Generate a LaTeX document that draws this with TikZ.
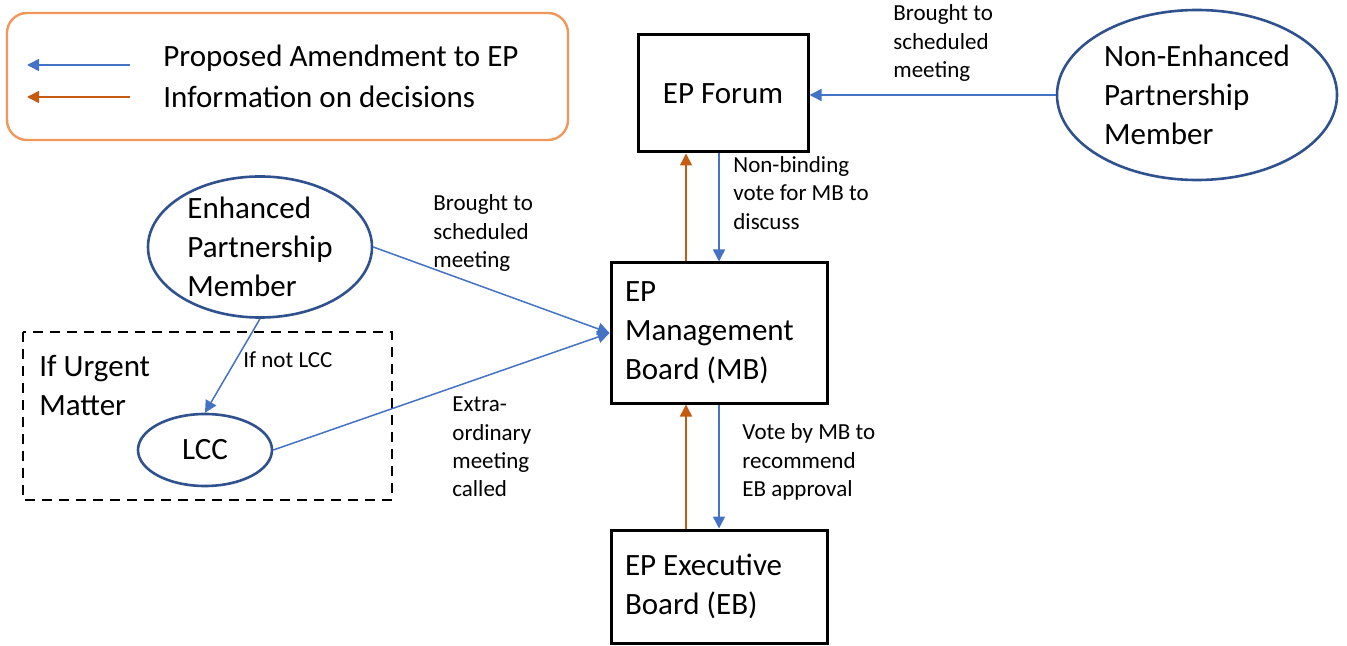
\documentclass[tikz,border=0pt]{standalone}
\usepackage{fontspec}
\setmainfont{Carlito}
\usetikzlibrary{arrows.meta, shapes.geometric}

\definecolor{propblue}{HTML}{4472C4}
\definecolor{infoorange}{HTML}{C55A11}
\definecolor{ovalblue}{HTML}{2F528F}
\definecolor{legorange}{HTML}{ED7D31}

\tikzstyle{body}=[font=\fontsize{15.5pt}{19.5pt}\selectfont]
\tikzstyle{small}=[font=\fontsize{11.5pt}{14.2pt}\selectfont, align=left, anchor=west, inner sep=0pt]
\tikzstyle{board}=[rectangle, draw=black, line width=1.5pt, body,
                   inner sep=0pt]
\tikzstyle{member}=[ellipse, draw=ovalblue, line width=1.3pt, body,
                    align=left, inner sep=0pt]
\tikzstyle{prop}=[-{Triangle[length=6pt, width=6pt]}, draw=propblue, line width=0.75pt]
\tikzstyle{info}=[-{Triangle[length=6pt, width=6pt]}, draw=infoorange, line width=0.75pt]

\begin{document}
\begin{tikzpicture}[x=0.5pt, y=-0.5pt]
  \useasboundingbox (0, 0) rectangle (1347, 646);

  %%%%%%%%%%%%%%%%%%%%%%%%%%%%%%
  % legend
  \draw[legorange!80, line width=1.2pt, rounded corners=10pt] (7, 13) rectangle (568, 140);
  \coordinate (leg_prop_s) at (130, 65);
  \coordinate (leg_prop_e) at (27, 65);
  \coordinate (leg_info_s) at (130, 97);
  \coordinate (leg_info_e) at (27, 97);
  \node (leg_prop) at (163, 58) [body, anchor=west, inner sep=0pt] {Proposed Amendment to EP};
  \node (leg_info) at (163, 97) [body, anchor=west, inner sep=0pt] {Information on decisions};
  \draw [prop] (leg_prop_s) to (leg_prop_e);
  \draw [info] (leg_info_s) to (leg_info_e);

  %%%%%%%%%%%%%%%%%%%%%%%%%%%%%%
  % nodes
  % boards
  \node (forum) at (723, 93.5) [board, minimum width=85pt, minimum height=58.5pt] {EP Forum};

  \node (mb) at (719, 333) [board, minimum width=108pt, minimum height=70pt,
                            text width=94pt, align=flush left] {EP\\Management\\Board (MB)};

  \node (eb) at (719, 586.5) [board, minimum width=108pt, minimum height=56.5pt,
                              text width=94pt, align=flush left] {EP Executive\\Board (EB)};

  % members
  \node (nonenh) at (1197, 95) [member, minimum width=140pt, minimum height=85pt] {Non-Enhanced\\Partnership\\Member};

  \node (enh) at (260, 247) [member, minimum width=112pt, minimum height=70pt] {Enhanced\\Partnership\\Member};

  % urgent
  \draw[black, line width=1.2pt, dash pattern=on 5pt off 3.5pt] (23, 332) rectangle (392, 500);
  \node (urgent) at (39, 385) [body, align=left, anchor=west, inner sep=0pt] {If Urgent\\Matter};

  \node (lcc) at (205, 450) [member, minimum width=67pt, minimum height=36pt] {LCC};

  %%%%%%%%%%%%%%%%%%%%%%%%%%%%%%
  % labels
  \node (lab_nonenh) at (893, 43) [small] {Brought to\\scheduled\\meeting};
  \node (lab_forum) at (733, 193) [small] {Non-binding\\vote for MB to\\discuss};
  \node (lab_enh) at (433, 233) [small] {Brought to\\scheduled\\meeting};
  \node (lab_notlcc) at (243, 360) [small] {If not LCC};
  \node (lab_lcc) at (452, 447) [small] {Extra-\\ordinary\\meeting\\called};
  \node (lab_mb) at (742, 462) [small] {Vote by MB to\\recommend\\EB approval};

  %%%%%%%%%%%%%%%%%%%%%%%%%%%%%%
  % links
  % amendments
  \draw [prop] (nonenh.west) to (nonenh.west -| forum.east);

  \draw [prop] (forum.south -| mb.north) to (mb.north);

  \draw [prop] (enh.east) to (mb.west);

  \draw [prop] (lcc.east) to (mb.west);

  \draw [prop] (enh.south) to (lcc.north);

  \draw [prop] (mb.south) to (eb.north);

  % information
  \draw [info] ([xshift=-16.5pt]mb.north) to ([xshift=-16.5pt]mb.north |- forum.south);

  \draw [info] ([xshift=-16.5pt]eb.north) to ([xshift=-16.5pt]eb.north |- mb.south);

\end{tikzpicture}
\end{document}
